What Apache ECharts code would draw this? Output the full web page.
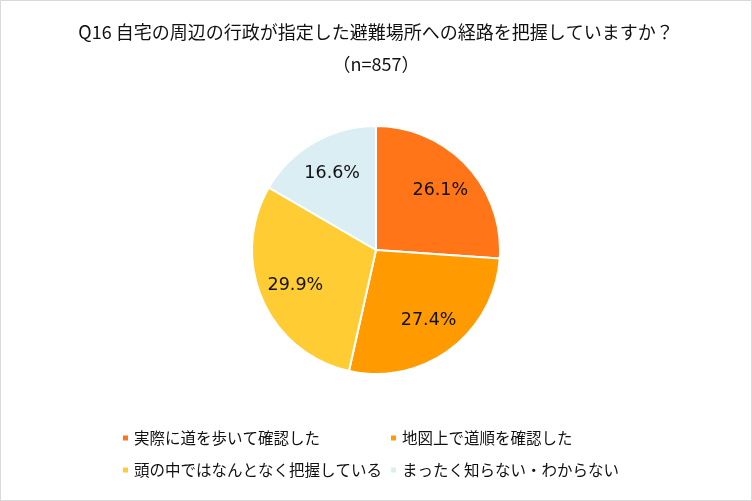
<!DOCTYPE html>
<html>
<head>
<meta charset="utf-8">
<script src="https://cdn.jsdelivr.net/npm/echarts@6/dist/echarts.min.js"></script>
<style>
html,body{margin:0;padding:0;background:#fff;}
#chart{width:752px;height:501px;box-sizing:border-box;border:1px solid #d9d9d9;}
</style>
</head>
<body>
<div id="chart"></div>
<script>
const titleText = 'Q16 自宅の周辺の行政が指定した避難場所への経路を把握していますか？';
const subtitleText = '（n=857）';
const categories = ['実際に道を歩いて確認した', '地図上で道順を確認した', '頭の中ではなんとなく把握している', 'まったく知らない・わからない'];
const values = [26.1, 27.4, 29.9, 16.6];
const colors = ['#FF7518', '#FF9A00', '#FFCC33', '#DAEEF3'];

const pieData = categories.map((c, i) => ({ name: c, value: values[i], itemStyle: { color: colors[i] } }));
const labelData = categories.map((c, i) => ({ name: c, value: values[i] }));
const cjk = "'Noto Sans CJK JP', 'Noto Sans', sans-serif";

const chart = echarts.init(document.getElementById('chart'), null, { renderer: 'canvas' });
chart.setOption({
  backgroundColor: '#fff',
  animation: false,
  title: {
    text: titleText + '\n' + subtitleText,
    left: 'center',
    top: 15,
    padding: 0,
    textStyle: { fontFamily: cjk, fontSize: 18, fontWeight: 'normal', color: '#111', lineHeight: 32, align: 'center' }
  },
  legend: [
    {
      orient: 'vertical', left: 115, top: 422, itemWidth: 7, itemHeight: 7, itemGap: 12,
      icon: 'rect', data: [categories[0], categories[2]],
      textStyle: { fontFamily: cjk, fontSize: 15.5, color: '#111', lineHeight: 20 }
    },
    {
      orient: 'vertical', left: 383, top: 422, itemWidth: 7, itemHeight: 7, itemGap: 12,
      icon: 'rect', data: [categories[1], categories[3]],
      textStyle: { fontFamily: cjk, fontSize: 15.5, color: '#111', lineHeight: 20 }
    }
  ],
  series: [
    {
      type: 'pie',
      center: [375, 249],
      radius: [0, 124],
      startAngle: 90,
      clockwise: true,
      data: pieData,
      itemStyle: { borderColor: '#fff', borderWidth: 2 },
      label: { show: false },
      labelLine: { show: false },
      emphasis: { disabled: true }
    },
    {
      type: 'pie',
      center: [375, 249],
      radius: [0, 170],
      startAngle: 90,
      clockwise: true,
      silent: true,
      data: labelData,
      itemStyle: { color: 'rgba(0,0,0,0)', borderWidth: 0 },
      label: {
        show: true, position: 'inside',
        formatter: p => p.value.toFixed(1) + '%',
        fontFamily: "'DejaVu Sans', sans-serif", fontSize: 17.5, color: '#111'
      },
      labelLine: { show: false },
      emphasis: { disabled: true }
    }
  ]
});
</script>
</body>
</html>
